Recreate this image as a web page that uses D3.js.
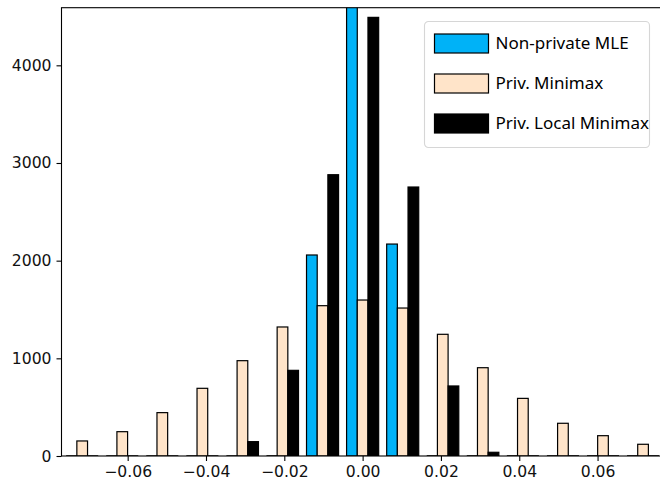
<!DOCTYPE html>
<html>
<head>
<meta charset="utf-8">
<script src="https://cdn.jsdelivr.net/npm/d3@7"></script>
<style>
  body { margin: 0; background: #fff; }
  svg { display: block; }
  .tick text { font-family: "DejaVu Sans", sans-serif; font-size: 15.6px; fill: #111; }
</style>
</head>
<body>
<svg width="660" height="483"></svg>
<script>
// bin edges of the histogram (15 bins)
const binEdges = [-0.07673, -0.06650, -0.05627, -0.04604, -0.03581, -0.02558, -0.01535, -0.00512,
  0.00512, 0.01535, 0.02558, 0.03581, 0.04604, 0.05627, 0.06650, 0.07673];

// counts per bin
const seriesNames = ["Non-private MLE", "Priv. Minimax", "Priv. Local Minimax"];
const mleCounts = [0, 0, 0, 0, 0, 0, 2058, 7700, 2170, 0, 0, 0, 0, 0, 0];
const minimaxCounts = [154, 249, 444, 693, 976, 1321, 1539, 1597, 1515, 1246, 904, 590, 335, 208, 120];
const localCounts = [0, 0, 0, 0, 147, 877, 2880, 4491, 2754, 717, 38, 0, 0, 0, 0];
const seriesColors = ["#00b2f7", "#ffe4c9", "#000000"];

const xTicks = [-0.06, -0.04, -0.02, 0.00, 0.02, 0.04, 0.06];
const yTicks = [0, 1000, 2000, 3000, 4000];

const svg = d3.select("svg");
const margin = { left: 61.5, right: 661, top: 7.7, bottom: 456 };

const x = d3.scaleLinear().domain([-0.0769, 0.0762]).range([margin.left, margin.right]);
const y = d3.scaleLinear().domain([0, 4590]).range([margin.bottom, margin.top]);

svg.append("clipPath").attr("id", "plot")
  .append("rect")
  .attr("x", margin.left).attr("y", margin.top)
  .attr("width", margin.right - margin.left)
  .attr("height", margin.bottom - margin.top);

const allCounts = [mleCounts, minimaxCounts, localCounts];
const rwidth = 0.8;

// flatten into one list of bars
const bars = [];
allCounts.forEach((counts, s) => {
  counts.forEach((c, i) => {
    const w = binEdges[i + 1] - binEdges[i];
    const barW = w * rwidth / allCounts.length;
    const x0 = binEdges[i] + w * (1 - rwidth) / 2 + s * barW;
    bars.push({ s, x0, x1: x0 + barW, value: c });
  });
});

const g = svg.append("g").attr("clip-path", "url(#plot)");

g.selectAll(".bar")
  .data(bars.filter(d => d.value > 0))
  .enter().append("rect")
  .attr("class", "bar")
  .attr("x", d => x(d.x0))
  .attr("y", d => y(d.value))
  .attr("width", d => x(d.x1) - x(d.x0))
  .attr("height", d => y(0) - y(d.value))
  .attr("fill", d => seriesColors[d.s])
  .attr("stroke", "#000")
  .attr("stroke-width", 1.2);

// zero-height bars still show their edge along the baseline
g.selectAll(".zero")
  .data(bars.filter(d => d.value === 0))
  .enter().append("line")
  .attr("x1", d => x(d.x0)).attr("x2", d => x(d.x1))
  .attr("y1", y(0)).attr("y2", y(0))
  .attr("stroke", "#000")
  .attr("stroke-width", 1.6);

// axes
const xAxis = d3.axisBottom(x).tickValues(xTicks).tickSize(5).tickPadding(5)
  .tickFormat(d => d3.format(".2f")(d).replace("-", "\u2212"));
const yAxis = d3.axisLeft(y).tickValues(yTicks).tickSize(5).tickPadding(5)
  .tickFormat(d3.format("d"));

const gx = svg.append("g").attr("transform", `translate(0,${margin.bottom})`).call(xAxis);
const gy = svg.append("g").attr("transform", `translate(${margin.left},0)`).call(yAxis);
[gx, gy].forEach(a => {
  a.select(".domain").remove();
  a.selectAll(".tick line").attr("stroke", "#000").attr("stroke-width", 1.1);
});

// spines
svg.append("rect")
  .attr("x", margin.left).attr("y", margin.top)
  .attr("width", margin.right - margin.left)
  .attr("height", margin.bottom - margin.top)
  .attr("fill", "none")
  .attr("stroke", "#000")
  .attr("stroke-width", 1.1);

// legend
const legend = svg.append("g").attr("transform", "translate(424.5,21.5)");
legend.append("rect")
  .attr("width", 225).attr("height", 126)
  .attr("rx", 4)
  .attr("fill", "#fff").attr("fill-opacity", 0.8)
  .attr("stroke", "#d6d6d6").attr("stroke-width", 1.1);

const items = legend.selectAll(".item")
  .data(seriesNames)
  .enter().append("g")
  .attr("transform", (d, i) => `translate(10,${22 + i * 40})`);

items.append("rect")
  .attr("x", 0).attr("y", -9.5)
  .attr("width", 54).attr("height", 19)
  .attr("fill", (d, i) => seriesColors[i])
  .attr("stroke", "#000").attr("stroke-width", 1.2);

items.append("text")
  .attr("x", 61)
  .attr("y", 0)
  .attr("dy", "0.35em")
  .attr("font-family", "'Noto Sans', sans-serif")
  .attr("font-size", 17)
  .attr("fill", "#000")
  .text(d => d);
</script>
</body>
</html>
